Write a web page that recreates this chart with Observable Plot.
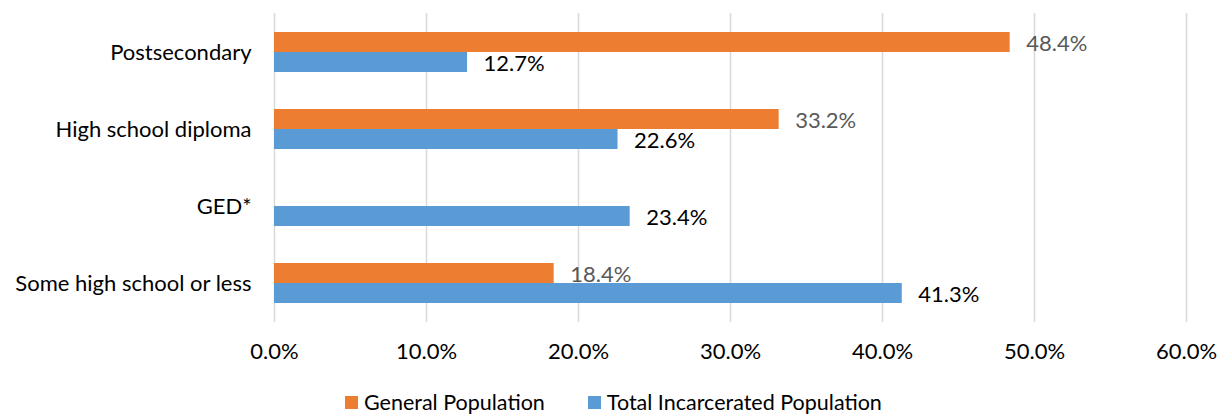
<!DOCTYPE html>
<html>
<head>
<meta charset="utf-8">
<script src="https://cdn.jsdelivr.net/npm/d3@7"></script>
<script src="https://cdn.jsdelivr.net/npm/@observablehq/plot@0.6"></script>
<style>
  body { margin: 0; background: #fff; font-family: Lato, "Open Sans", sans-serif; overflow: hidden; }
  #legend { display: flex; align-items: center; margin-left: 345px; font-size: 21.5px; color: #000; height: 26px; line-height: 26px; }
  .item { display: flex; align-items: center; margin-right: 43px; }
  .sw { width: 13px; height: 13px; margin-right: 6px; }
</style>
</head>
<body>
<div id="chart"></div>
<div id="legend"></div>
<script>
const categories = ["Postsecondary", "High school diploma", "GED*", "Some high school or less"];
const seriesNames = ["General Population", "Total Incarcerated Population"];
const generalPopulation = [48.4, 33.2, null, 18.4];
const totalIncarcerated = [12.7, 22.6, 23.4, 41.3];
const xTicks = [0, 10, 20, 30, 40, 50, 60];
const colors = ["#ED7D31", "#5B9BD5"];

const general = categories.map((c, i) => ({category: c, value: generalPopulation[i]})).filter(d => d.value != null);
const incarcerated = categories.map((c, i) => ({category: c, value: totalIncarcerated[i]}));
const fmt = d => d.value.toFixed(1) + "%";

const plot = Plot.plot({
  width: 1217,
  height: 389,
  marginLeft: 274,
  marginRight: 31,
  marginTop: 13,
  marginBottom: 67,
  style: {fontFamily: "Lato, 'Open Sans', sans-serif", fontSize: "22px", color: "#000", background: "#fff"},
  x: {domain: [0, 60], ticks: xTicks, tickFormat: d => d.toFixed(1) + "%", tickSize: 0, tickPadding: 21, label: null},
  y: {domain: categories, paddingInner: 0.482, paddingOuter: 0.241, tickSize: 0, tickPadding: 23, label: null},
  marks: [
    Plot.ruleX(xTicks, {stroke: "#d9d9d9", strokeWidth: 1.5}),
    Plot.barX(general, {x: "value", y: "category", fill: colors[0], insetBottom: 20}),
    Plot.barX(incarcerated, {x: "value", y: "category", fill: colors[1], insetTop: 20}),
    Plot.text(general, {x: "value", y: "category", text: fmt, dx: 16, dy: -9, textAnchor: "start", fill: "#595959", fontSize: 22}),
    Plot.text(incarcerated, {x: "value", y: "category", text: fmt, dx: 16, dy: 11, textAnchor: "start", fill: "#000", fontSize: 22})
  ]
});
document.getElementById("chart").appendChild(plot);

const legend = document.getElementById("legend");
seriesNames.forEach((name, i) => {
  const item = document.createElement("div");
  item.className = "item";
  const sw = document.createElement("span");
  sw.className = "sw";
  sw.style.background = colors[i];
  const label = document.createElement("span");
  label.textContent = name;
  item.appendChild(sw);
  item.appendChild(label);
  legend.appendChild(item);
});
</script>
</body>
</html>
